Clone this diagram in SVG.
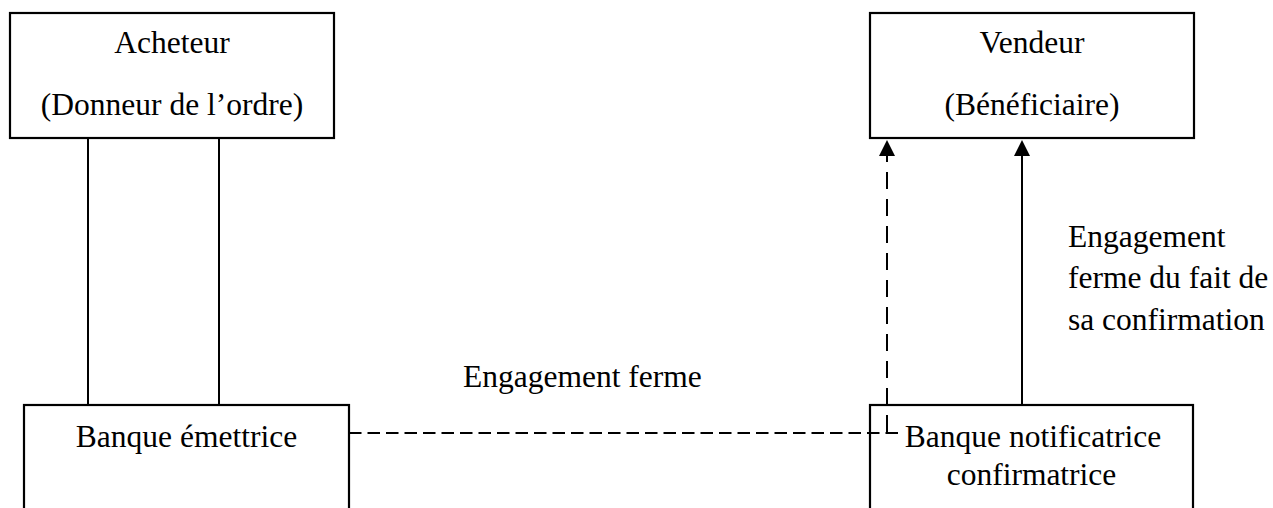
<svg xmlns="http://www.w3.org/2000/svg" width="1273" height="508" viewBox="0 0 1273 508">
  <style>
    .box { fill: #fff; stroke: #000; stroke-width: 2.2; }
    .lbl { font-family: "Liberation Serif", "Times New Roman", serif; font-size: 31.5px; fill: #000; }
    .mid { text-anchor: middle; }
    .ln { fill: none; stroke: #000; stroke-width: 2; }
    .dh { stroke-dasharray: 12.5 6; }
    .dv { stroke-dasharray: 17 10; }
  </style>
  <defs>
    <!-- filled arrowhead, drawn along +x, base at the line end -->
    <marker id="arrow" viewBox="0 0 16 16" refX="0" refY="8" markerWidth="16" markerHeight="16" markerUnits="userSpaceOnUse" orient="auto">
      <path d="M0,0 L16,8 L0,16 Z" fill="#000"/>
    </marker>
  </defs>
  <rect width="1273" height="508" fill="#fff"/>

  <g id="acheteur">
    <rect class="box" x="10" y="13" width="324" height="125"/>
    <text class="lbl mid" x="172" y="53">Acheteur</text>
    <text class="lbl mid" x="172" y="115">(Donneur de l’ordre)</text>
  </g>

  <g id="vendeur">
    <rect class="box" x="870" y="13" width="324" height="125"/>
    <text class="lbl mid" x="1032" y="53">Vendeur</text>
    <text class="lbl mid" x="1032" y="115">(Bénéficiaire)</text>
  </g>

  <g id="banque-emettrice">
    <rect class="box" x="24" y="405" width="325" height="110"/>
    <text class="lbl mid" x="186.5" y="447">Banque émettrice</text>
  </g>

  <g id="banque-notificatrice">
    <rect class="box" x="870" y="405" width="323" height="110"/>
    <text class="lbl mid" x="1033" y="447">Banque notificatrice</text>
    <text class="lbl mid" x="1031.5" y="485">confirmatrice</text>
  </g>

  <g id="connectors">
    <!-- links between the buyer and the issuing bank -->
    <line class="ln" x1="88" y1="138" x2="88" y2="405"/>
    <line class="ln" x1="219" y1="138" x2="219" y2="405"/>
    <!-- firm commitment of the issuing bank -->
    <polyline class="ln dh" points="349,433 899,433"/>
    <line class="ln" x1="887" y1="415" x2="887" y2="434"/>
    <line class="ln dv" x1="887" y1="405" x2="887" y2="156" marker-end="url(#arrow)"/>
    <!-- confirmation commitment -->
    <line class="ln" x1="1022" y1="405" x2="1022" y2="156" marker-end="url(#arrow)"/>
  </g>

  <g id="labels">
    <text class="lbl" x="463" y="387">Engagement ferme</text>
    <text class="lbl" x="1068" y="247">Engagement</text>
    <text class="lbl" x="1068" y="288">ferme du fait de</text>
    <text class="lbl" x="1068" y="330">sa confirmation</text>
  </g>
</svg>
